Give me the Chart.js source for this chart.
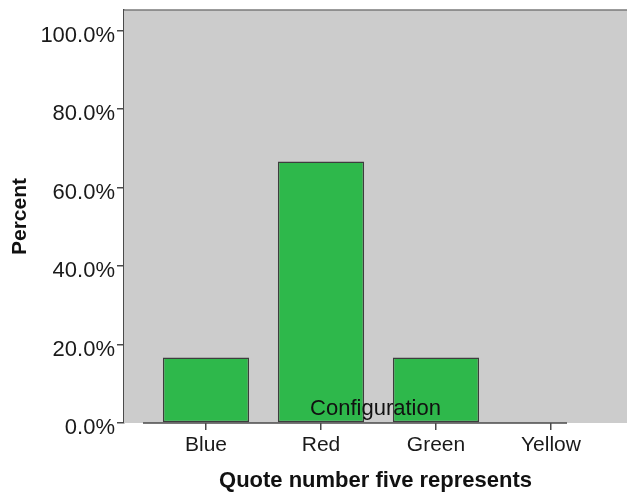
<!DOCTYPE html>
<html>
<head>
<meta charset="utf-8">
<script src="https://cdn.jsdelivr.net/npm/chart.js@4.4.0/dist/chart.umd.min.js"></script>
<style>
  html, body { margin: 0; padding: 0; background: #ffffff; }
  #wrap { width: 627px; height: 492px; }
</style>
</head>
<body>
<div id="wrap"><canvas id="c" width="627" height="492"></canvas></div>
<script>
// Category labels and their percentages
const categories = ['Blue', 'Red', 'Green', 'Yellow'];
const percents = [16.7, 66.7, 16.7, 0];
const yTickValues = [0, 20, 40, 60, 80, 100];
const xTitle = 'Quote number five represents';
const yTitle = 'Percent';
const innerNote = 'Configuration';

const FONT = "'Liberation Sans', Arial, Helvetica, sans-serif";
const AXIS_COLOR = '#4a4a4a';
Chart.defaults.font.family = FONT;
Chart.defaults.color = '#1a1a1a';

// Grey plot panel behind the bars, plus its upper edge
const panelPlugin = {
  id: 'panel',
  beforeDatasetsDraw(chart) {
    const { ctx, chartArea: a } = chart;
    ctx.save();
    ctx.fillStyle = '#cccccc';
    ctx.fillRect(a.left, a.top, a.right - a.left, a.bottom - a.top);
    ctx.strokeStyle = '#7a7a7a';
    ctx.lineWidth = 1.5;
    ctx.beginPath();
    ctx.moveTo(a.left, a.top);
    ctx.lineTo(a.right, a.top);
    ctx.stroke();
    ctx.restore();
  },
  afterDatasetsDraw(chart) {
    const { ctx, chartArea: a } = chart;
    ctx.save();
    // base line under the bars
    ctx.strokeStyle = AXIS_COLOR;
    ctx.lineWidth = 1.5;
    ctx.beginPath();
    ctx.moveTo(a.left + 19, a.bottom);
    ctx.lineTo(a.left + 443, a.bottom);
    ctx.stroke();
    // label printed inside the panel
    ctx.fillStyle = '#111111';
    ctx.font = "22px " + FONT;
    ctx.textAlign = 'center';
    ctx.textBaseline = 'alphabetic';
    ctx.fillText(innerNote, (a.left + a.right) / 2, a.bottom - 8);
    ctx.restore();
  }
};

const points = categories.map((c, i) => ({ x: i, y: percents[i] }));

new Chart(document.getElementById('c'), {
  type: 'bar',
  data: {
    datasets: [{
      data: points,
      backgroundColor: '#2eb84b',
      borderColor: '#3d3d3d',
      borderWidth: 1.5,
      borderSkipped: false,
      categoryPercentage: 1,
      barPercentage: 0.75
    }]
  },
  options: {
    responsive: false,
    animation: false,
    devicePixelRatio: 1,
    layout: { padding: { top: 10, right: 0, left: 0, bottom: 0 } },
    plugins: { legend: { display: false }, tooltip: { enabled: false } },
    scales: {
      x: {
        type: 'linear',
        offset: false,
        min: -0.713,
        max: 3.661,
        afterBuildTicks(scale) { scale.ticks = categories.map((c, i) => ({ value: i })); },
        afterFit(scale) {
          scale.height = 69;
          scale.paddingLeft = 0;
          scale.paddingRight = 0;
        },
        ticks: {
          autoSkip: false,
          maxRotation: 0,
          padding: 3,
          color: '#1a1a1a',
          font: { size: 21 },
          callback: (v) => categories[v]
        },
        grid: { offset: false, drawOnChartArea: false, drawTicks: true, tickLength: 7, color: AXIS_COLOR, lineWidth: 1.5 },
        border: { display: false },
        title: {
          display: true,
          text: xTitle,
          color: '#111111',
          font: { size: 22, weight: 'bold', lineHeight: 1 },
          padding: { top: 0, bottom: 0 }
        }
      },
      y: {
        min: 0,
        max: 105.3,
        afterBuildTicks(scale) { scale.ticks = yTickValues.map(v => ({ value: v })); },
        afterFit(scale) {
          scale.width = 124;
          scale.paddingTop = 0;
          scale.paddingBottom = 0;
        },
        ticks: {
          padding: 2,
          labelOffset: 5,
          color: '#1a1a1a',
          font: { size: 22 },
          callback: (v) => v.toFixed(1) + '%'
        },
        grid: { drawOnChartArea: false, drawTicks: true, tickLength: 7, color: AXIS_COLOR, lineWidth: 1.5 },
        border: { display: true, color: AXIS_COLOR, width: 1.5 },
        title: {
          display: true,
          text: yTitle,
          color: '#111111',
          font: { size: 21, weight: 'bold', lineHeight: 1 },
          padding: { top: 10, bottom: 0 }
        }
      }
    }
  },
  plugins: [panelPlugin]
});
</script>
</body>
</html>
